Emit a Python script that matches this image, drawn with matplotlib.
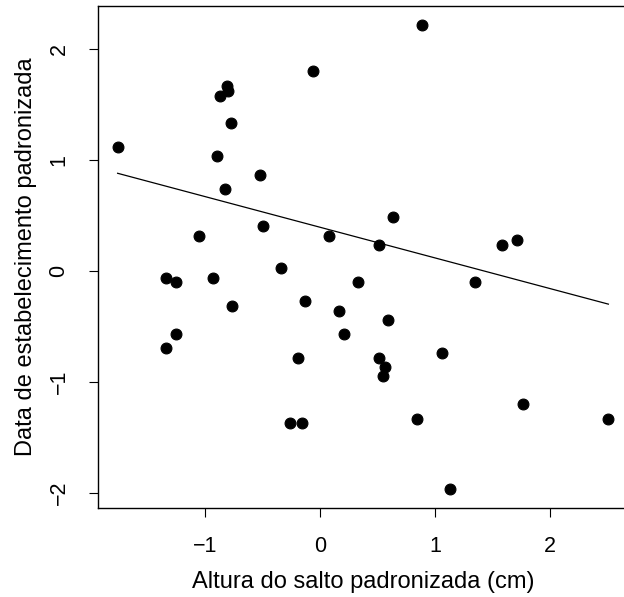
import numpy as np
import matplotlib.pyplot as plt

plt.rcParams['font.family'] = ['Liberation Sans', 'DejaVu Sans']

# standardized jump height (x) and establishment date (y)
altura = [-1.765, -0.061, -0.815, -0.806, -0.872, -0.780, -0.896, -0.528, -0.832, -1.055,
          -0.501, 0.072, 0.890, 0.635, 0.513, 1.583, 1.710, -1.345, -1.255, -0.930,
          -0.345, -0.768, -0.130, 0.328, 0.165, 0.209, -1.255, -1.345, -0.194, -0.267,
          -0.162, 1.348, 0.588, 0.516, 0.565, 0.545, 1.058, 0.841, 1.768, 2.510, 1.133]
data_estab = [1.120, 1.800, 1.670, 1.620, 1.580, 1.330, 1.035, 0.866, 0.737, 0.316,
              0.400, 0.316, 2.220, 0.485, 0.232, 0.232, 0.274, -0.063, -0.105, -0.063,
              0.022, -0.318, -0.276, -0.105, -0.361, -0.571, -0.571, -0.698, -0.782, -1.375,
              -1.375, -0.105, -0.445, -0.782, -0.866, -0.950, -0.740, -1.333, -1.203, -1.333, -1.967]

# fitted regression line
intercepto = 0.392
inclinacao = -0.276

x = np.array(altura)
y = np.array(data_estab)

fig = plt.figure(figsize=(6.24, 5.97), dpi=100)
W, H = 624, 597
# axes box in pixels (right edge runs past the canvas)
left, right, top, bottom = 98, 628, 6, 507.5
ax = fig.add_axes([left / W, 1 - bottom / H, (right - left) / W, (bottom - top) / H])

ax.plot(x, y, 'o', color='black', markersize=7.8, markeredgewidth=0.8)
xs = np.array([x.min(), x.max()])
ax.plot(xs, intercepto + inclinacao * xs, color='black', linewidth=0.9)

# R-style 4% padding around the data range
rx = x.max() - x.min()
ry = y.max() - y.min()
ax.set_xlim(x.min() - 0.04 * rx, x.max() + 0.04 * rx)
ax.set_ylim(y.min() - 0.04 * ry, y.max() + 0.04 * ry)

ax.set_xticks([-1, 0, 1, 2])
ax.set_yticks([-2, -1, 0, 1, 2])
ax.set_xticklabels(['\u22121', '0', '1', '2'])
ax.set_yticklabels(['\u22122', '\u22121', '0', '1', '2'], rotation=90, va='center')
ax.tick_params(direction='out', length=6.5, width=0.8, labelsize=15.5, pad=14)

for s in ax.spines.values():
    s.set_linewidth(1.0)

ax.set_xlabel('Altura do salto padronizada (cm)', fontsize=17, labelpad=10)
ax.set_ylabel('Data de estabelecimento padronizada', fontsize=17, labelpad=8)

fig.savefig('out.png', dpi=100)
